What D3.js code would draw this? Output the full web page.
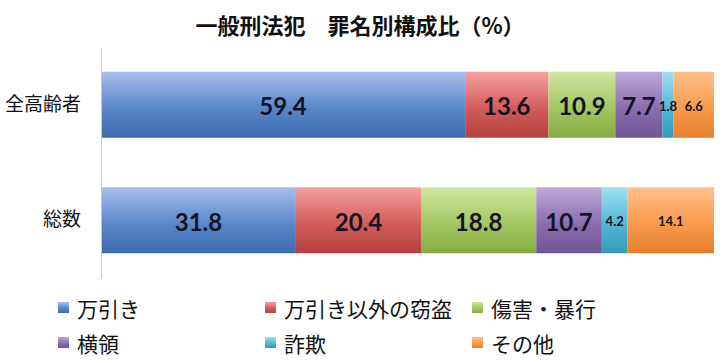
<!DOCTYPE html>
<html><head><meta charset="utf-8">
<script src="https://cdn.jsdelivr.net/npm/d3@7"></script>
<style>html,body{margin:0;padding:0;background:#fff;}</style>
</head><body>
<svg id="chart" width="720" height="360"></svg>
<script>
const title = "一般刑法犯\u3000罪名別構成比（%）";
const categories = ["全高齢者", "総数"];
const seriesNames = ["万引き", "万引き以外の窃盗", "傷害・暴行", "横領", "詐欺", "その他"];
const elderlyValues = [59.4, 13.6, 10.9, 7.7, 1.8, 6.6];
const totalValues = [31.8, 20.4, 18.8, 10.7, 4.2, 14.1];

const rows = [elderlyValues, totalValues];
const colors = [
  ["#a7c0ec", "#5b87cb", "#3d6aae"],
  ["#f5a09e", "#d25d5a", "#b4413e"],
  ["#cfe6a0", "#a3c663", "#86ab43"],
  ["#bcaad8", "#8a6eb0", "#6e5594"],
  ["#9fe0f4", "#53b7d4", "#3698b6"],
  ["#ffc08c", "#f99a4c", "#e47f2e"]
];

const svg = d3.select("#chart");
const defs = svg.append("defs");
colors.forEach((c, i) => {
  const g = defs.append("linearGradient").attr("id", "g" + i)
    .attr("x1", 0).attr("y1", 0).attr("x2", 0).attr("y2", 1);
  g.append("stop").attr("offset", "0%").attr("stop-color", c[0]);
  g.append("stop").attr("offset", "55%").attr("stop-color", c[1]);
  g.append("stop").attr("offset", "100%").attr("stop-color", c[2]);
});

const x = d3.scaleLinear().domain([0, 100]).range([101, 714]);
const y = d3.scaleBand().domain(categories).range([47, 278])
  .paddingInner(0.4286).paddingOuter(0.2143);

svg.append("text").attr("x", 360).attr("y", 24)
  .attr("text-anchor", "middle").attr("dominant-baseline", "central")
  .style("font-family", "'Noto Sans CJK JP', sans-serif")
  .style("font-weight", "bold").style("font-size", "22px").attr("fill", "#111")
  .text(title);

rows.forEach((vals, r) => {
  const stacked = [];
  let acc = 0;
  vals.forEach((v, i) => { stacked.push({i, v, x0: acc, x1: acc + v}); acc += v; });
  const g = svg.append("g");
  g.selectAll("rect").data(stacked).join("rect")
    .attr("x", d => x(d.x0)).attr("width", d => x(d.x1) - x(d.x0))
    .attr("y", y(categories[r])).attr("height", y.bandwidth())
    .attr("fill", d => `url(#g${d.i})`);
  g.selectAll("text").data(stacked).join("text")
    .attr("x", d => (x(d.x0) + x(d.x1)) / 2)
    .attr("y", y(categories[r]) + y.bandwidth() / 2 + 1)
    .attr("text-anchor", "middle").attr("dominant-baseline", "central")
    .style("font-family", "Lato, 'Open Sans', sans-serif").style("font-weight", "bold")
    .style("font-size", d => d.i >= 4 ? "13px" : "24px")
    .attr("fill", "#141425")
    .text(d => d.v.toFixed(1));
});

const axis = d3.axisLeft(y).tickSize(0).tickSizeOuter(0).tickPadding(20);
const ag = svg.append("g").attr("transform", "translate(101,0)").call(axis);
ag.select(".domain").attr("stroke", "#c8c8c8");
ag.selectAll("text")
  .style("font-family", "'Noto Sans CJK JP', sans-serif")
  .style("font-size", "19px").attr("fill", "#111");

const legend = svg.append("g");
const leg = legend.selectAll("g").data(seriesNames).join("g")
  .attr("transform", (d, i) => `translate(${58 + (i % 3) * 207},${i < 3 ? 302 : 337})`);
leg.append("rect").attr("width", 11).attr("height", 11)
  .attr("fill", (d, i) => `url(#g${i})`);
leg.append("text").attr("x", 19).attr("y", 6)
  .attr("dominant-baseline", "central")
  .style("font-family", "'Noto Sans CJK JP', sans-serif")
  .style("font-size", "21px").attr("fill", "#111")
  .text(d => d);
</script>
</body></html>
